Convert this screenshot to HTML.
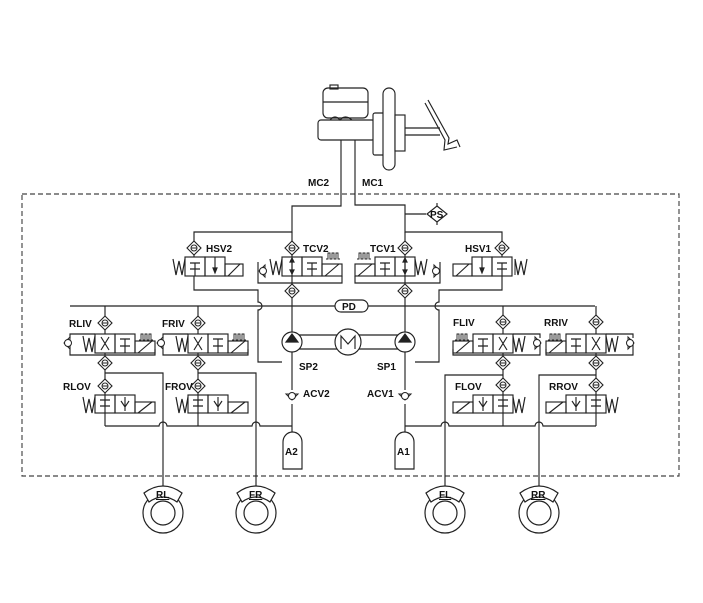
<!DOCTYPE html>
<html><head><meta charset="utf-8"><style>
html,body{margin:0;padding:0;background:#fff}
svg{display:block}
text{font-family:"Liberation Sans",Arial,sans-serif;font-weight:bold;font-size:10px;fill:#111}
</style></head><body>
<svg width="703" height="603" viewBox="0 0 703 603" xmlns="http://www.w3.org/2000/svg">
<defs>
<g id="dia"><polygon points="0,-7 7,0 0,7 -7,0" fill="#fff" stroke="#222" stroke-width="1.1"/><circle cx="0" cy="0" r="3" fill="none" stroke="#222"/><line x1="-3" y1="0" x2="3" y2="0" stroke="#222"/></g>
<g id="sprL"><polyline points="13,1 13,17 M13,9" fill="none" stroke="#222"/><polyline points="13,1 10,17 7,3 4,17 1,1" fill="none" stroke="#222" stroke-width="1.2"/></g>
<g id="chk"><polygon points="-6,-3 0,3 6,-3" fill="none" stroke="#222"/><circle cx="0" cy="-1" r="3.5" fill="#fff" stroke="#222"/></g>
<g id="pulse"><polyline points="0,6 2,6 2,0 4,0 4,6 6,6 6,0 8,0 8,6 10,6 10,0 12,0 12,6 14,6" fill="none" stroke="#222" stroke-width="0.9"/></g>
</defs>
<g fill="none" stroke="#222" stroke-width="1.15">
<rect x="22" y="194" width="657" height="282" stroke-dasharray="5,3" stroke="#444"/>
<rect x="323" y="88" width="45" height="30" rx="5" fill="#fff"/>
<line x1="323" y1="102" x2="368" y2="102"/><rect x="330" y="85" width="8" height="4"/>
<rect x="318" y="120" width="57" height="20" rx="3" fill="#fff"/>
<path d="M330 120 q5 -6 10 0 q5 -6 12 0"/>
<rect x="373" y="113" width="12" height="42" rx="2" fill="#fff"/>
<rect x="383" y="88" width="12" height="82" rx="6" fill="#fff"/>
<rect x="395" y="115" width="10" height="36" fill="#fff"/>
<path d="M405 128 H440 M405 135 H440"/>
<path d="M425 103 L445 140 L444 150 L457 147 M428 100 L449 138 L448 144 L457 140 L460 147"/>
<path d="M341 140 V206 H292 V232 H194 V241"/>
<path d="M355 140 V205 H405 V232 H502 V241"/>
<path d="M405 214 H426"/>
<polygon points="437,206 447,214 437,222 427,214" fill="#fff"/>
<path d="M437 206 v-3 M437 222 v3"/>
<path d="M292 232 V241 M292 255 V284 M292 298 V332 M292 352 V390 M292 404 V432"/>
<path d="M405 232 V241 M405 255 V284 M405 298 V332 M405 352 V390 M405 404 V432"/>
<rect x="185" y="257" width="20" height="19"/><rect x="205" y="257" width="20" height="19"/>
<path d="M190 263 H200 M195 263 V269 M190 269 H200 M195 269 V276"/>
<path d="M215 257 V272"/><polygon points="213,268 217,268 215,273" fill="#222"/>
<rect x="225" y="264" width="18" height="12"/><line x1="228" y1="276" x2="240" y2="264"/>
<path d="M194 255 V257 M194 276 V290 H258 V302 A4 4 0 0 1 258 310 V362 H282"/>
<rect x="472" y="257" width="20" height="19"/><rect x="492" y="257" width="20" height="19"/>
<path d="M497 263 H507 M502 263 V269 M497 269 H507 M502 269 V276"/>
<path d="M482 257 V272"/><polygon points="480,268 484,268 482,273" fill="#222"/>
<rect x="453" y="264" width="19" height="12"/><line x1="456" y1="276" x2="469" y2="264"/>
<path d="M502 255 V257 M502 276 V290 H439 V302 A4 4 0 0 0 439 310 V362 H415"/>
<path d="M258 262 V283 H342 V276"/>
<rect x="282" y="257" width="20" height="19"/><rect x="302" y="257" width="20" height="19"/>
<path d="M292 259 V274"/><polygon points="290,262 294,262 292,258" fill="#222"/><polygon points="290,270 294,270 292,274" fill="#222"/>
<path d="M307 263 H317 M312 263 V269 M307 269 H317 M312 269 V276"/>
<rect x="322" y="264" width="20" height="12"/><line x1="325" y1="276" x2="339" y2="264"/>
<path d="M440 262 V283 H355 V276"/>
<rect x="375" y="257" width="20" height="19"/><rect x="395" y="257" width="20" height="19"/>
<path d="M405 259 V274"/><polygon points="403,262 407,262 405,258" fill="#222"/><polygon points="403,270 407,270 405,274" fill="#222"/>
<path d="M380 263 H390 M385 263 V269 M380 269 H390 M385 269 V276"/>
<rect x="355" y="264" width="20" height="12"/><line x1="358" y1="276" x2="372" y2="264"/>
<path d="M70 306 H335 M368 306 H595"/>
<rect x="335" y="300" width="33" height="12" rx="6" fill="#fff"/>
<path d="M292 335 H405 M292 349 H405"/>
<circle cx="292" cy="342" r="10" fill="#fff"/><polygon points="286,342 298,342 292,334" fill="#222"/>
<circle cx="405" cy="342" r="10" fill="#fff"/><polygon points="399,342 411,342 405,334" fill="#222"/>
<circle cx="348" cy="342" r="13" fill="#fff"/><path d="M341 349 V336 L348 344 L355 336 V349"/>
<path d="M283 469 V442 A9.5 10 0 0 1 302 442 V469 Z" fill="#fff"/>
<path d="M395 469 V442 A9.5 10 0 0 1 414 442 V469 Z" fill="#fff"/>
<path d="M105 426 H159 A4 4 0 0 1 167 426 H252 A4 4 0 0 1 260 426 H292"/>
<path d="M405 426 H441 A4 4 0 0 1 449 426 H535 A4 4 0 0 1 543 426 H596"/>
<path d="M105 373 H163 V490 M198 373 H256 V490 M503 375 H445 V490 M596 375 H539 V490"/>
<path d="M105 306 V316 M105 330 V334 M105 353 V356 M105 370 V379 M105 393 V426"/>
<path d="M198 306 V316 M198 330 V334 M198 353 V356 M198 370 V379 M198 393 V426"/>
<path d="M503 306 V315 M503 329 V334 M503 353 V356 M503 370 V378 M503 392 V426"/>
<path d="M596 306 V315 M596 329 V334 M596 353 V356 M596 370 V378 M596 392 V426"/>
</g>
<g fill="none" stroke="#222" stroke-width="1.15">
<path d="M70 343 V355 H155 V349 M70 338 V334 H95"/>
<rect x="95" y="334" width="20" height="19"/><rect x="115" y="334" width="20" height="19"/>
<path d="M120 339 H130 M125 339 V346 M120 346 H130 M125 346 V353"/>
<rect x="135" y="341" width="20" height="12"/><line x1="138" y1="353" x2="152" y2="341"/>
<path d="M101 337 L109 350 M109 337 L101 350"/>
<path d="M163 343 V355 H248 V349 M163 338 V334 H188"/>
<rect x="188" y="334" width="20" height="19"/><rect x="208" y="334" width="20" height="19"/>
<path d="M213 339 H223 M218 339 V346 M213 346 H223 M218 346 V353"/>
<rect x="228" y="341" width="20" height="12"/><line x1="231" y1="353" x2="245" y2="341"/>
<path d="M194 337 L202 350 M202 337 L194 350"/>
<path d="M540 343 V355 H453 V349 M540 338 V334 H513"/>
<rect x="473" y="334" width="20" height="19"/><rect x="493" y="334" width="20" height="19"/>
<path d="M478 339 H488 M483 339 V346 M478 346 H488 M483 346 V353"/>
<rect x="453" y="341" width="20" height="12"/><line x1="456" y1="353" x2="470" y2="341"/>
<path d="M499 337 L507 350 M507 337 L499 350"/>
<path d="M633 343 V355 H546 V349 M633 338 V334 H606"/>
<rect x="566" y="334" width="20" height="19"/><rect x="586" y="334" width="20" height="19"/>
<path d="M571 339 H581 M576 339 V346 M571 346 H581 M576 346 V353"/>
<rect x="546" y="341" width="20" height="12"/><line x1="549" y1="353" x2="563" y2="341"/>
<path d="M592 337 L600 350 M600 337 L592 350"/>
<rect x="95" y="395" width="20" height="18"/><rect x="115" y="395" width="20" height="18"/>
<path d="M100 400 H110 M105 400 V406 M100 406 H110"/><path d="M125 397 V411 M121 401 L125 407 L129 401"/>
<rect x="135" y="402" width="20" height="11"/><line x1="138" y1="413" x2="152" y2="402"/>
<rect x="188" y="395" width="20" height="18"/><rect x="208" y="395" width="20" height="18"/>
<path d="M193 400 H203 M198 400 V406 M193 406 H203"/><path d="M218 397 V411 M214 401 L218 407 L222 401"/>
<rect x="228" y="402" width="20" height="11"/><line x1="231" y1="413" x2="245" y2="402"/>
<rect x="473" y="395" width="20" height="18"/><rect x="493" y="395" width="20" height="18"/>
<path d="M498 400 H508 M503 400 V406 M498 406 H508"/><path d="M483 397 V411 M479 401 L483 407 L487 401"/>
<rect x="453" y="402" width="20" height="11"/><line x1="456" y1="413" x2="470" y2="402"/>
<rect x="566" y="395" width="20" height="18"/><rect x="586" y="395" width="20" height="18"/>
<path d="M591 400 H601 M596 400 V406 M591 406 H601"/><path d="M576 397 V411 M572 401 L576 407 L580 401"/>
<rect x="546" y="402" width="20" height="11"/><line x1="549" y1="413" x2="563" y2="402"/>
</g>
<use href="#sprL" x="172" y="258"/><use href="#sprL" x="269" y="258"/>
<use href="#sprL" x="82" y="335"/><use href="#sprL" x="175" y="335"/>
<use href="#sprL" x="82" y="396"/><use href="#sprL" x="175" y="396"/>
<g transform="translate(703,0) scale(-1,1)">
<use href="#sprL" x="175" y="258"/><use href="#sprL" x="275" y="258"/>
<use href="#sprL" x="177" y="335"/><use href="#sprL" x="84" y="335"/>
<use href="#sprL" x="177" y="396"/><use href="#sprL" x="84" y="396"/>
</g>
<g transform="translate(262,271) rotate(90)"><use href="#chk"/></g>
<g transform="translate(67,343) rotate(90)"><use href="#chk"/></g>
<g transform="translate(160,343) rotate(90)"><use href="#chk"/></g>
<g transform="translate(437,271) rotate(-90)"><use href="#chk"/></g>
<g transform="translate(538,343) rotate(-90)"><use href="#chk"/></g>
<g transform="translate(631,343) rotate(-90)"><use href="#chk"/></g>
<g transform="translate(292,397)"><use href="#chk"/></g>
<g transform="translate(405,397)"><use href="#chk"/></g>
<use href="#pulse" x="326" y="253"/><use href="#pulse" x="357" y="253"/>
<use href="#pulse" x="139" y="334"/><use href="#pulse" x="232" y="334"/>
<use href="#pulse" x="455" y="334"/><use href="#pulse" x="548" y="334"/>
<use href="#dia" x="194" y="248"/><use href="#dia" x="292" y="248"/><use href="#dia" x="405" y="248"/><use href="#dia" x="502" y="248"/>
<use href="#dia" x="292" y="291"/><use href="#dia" x="405" y="291"/>
<use href="#dia" x="105" y="323"/><use href="#dia" x="198" y="323"/><use href="#dia" x="503" y="322"/><use href="#dia" x="596" y="322"/>
<use href="#dia" x="105" y="363"/><use href="#dia" x="198" y="363"/><use href="#dia" x="503" y="363"/><use href="#dia" x="596" y="363"/>
<use href="#dia" x="105" y="386"/><use href="#dia" x="198" y="386"/><use href="#dia" x="503" y="385"/><use href="#dia" x="596" y="385"/>
<g fill="none" stroke="#222" stroke-width="1.2">
<circle cx="163" cy="513" r="20" fill="#fff"/><circle cx="163" cy="513" r="12"/>
<path d="M144 493 Q163 479 182 493 L177 502 Q163 492 149 502 Z" fill="#fff"/>
<circle cx="256" cy="513" r="20" fill="#fff"/><circle cx="256" cy="513" r="12"/>
<path d="M237 493 Q256 479 275 493 L270 502 Q256 492 242 502 Z" fill="#fff"/>
<circle cx="445" cy="513" r="20" fill="#fff"/><circle cx="445" cy="513" r="12"/>
<path d="M426 493 Q445 479 464 493 L459 502 Q445 492 431 502 Z" fill="#fff"/>
<circle cx="539" cy="513" r="20" fill="#fff"/><circle cx="539" cy="513" r="12"/>
<path d="M520 493 Q539 479 558 493 L553 502 Q539 492 525 502 Z" fill="#fff"/>
</g>
<text x="308" y="186">MC2</text><text x="362" y="186">MC1</text>
<text x="430" y="218" font-size="9">PS</text>
<text x="206" y="252">HSV2</text><text x="303" y="252">TCV2</text>
<text x="370" y="252">TCV1</text><text x="465" y="252">HSV1</text>
<text x="342" y="310">PD</text>
<text x="69" y="327">RLIV</text><text x="162" y="327">FRIV</text>
<text x="453" y="326">FLIV</text><text x="544" y="326">RRIV</text>
<text x="63" y="390">RLOV</text><text x="165" y="390">FROV</text>
<text x="455" y="390">FLOV</text><text x="549" y="390">RROV</text>
<text x="299" y="370">SP2</text><text x="377" y="370">SP1</text>
<text x="303" y="397">ACV2</text><text x="367" y="397">ACV1</text>
<text x="285" y="455">A2</text><text x="397" y="455">A1</text>
<text x="156" y="498" text-decoration="underline">RL</text><text x="249" y="498" text-decoration="underline">FR</text>
<text x="439" y="498" text-decoration="underline">FL</text><text x="531" y="498" text-decoration="underline">RR</text>
</svg>
</body></html>
